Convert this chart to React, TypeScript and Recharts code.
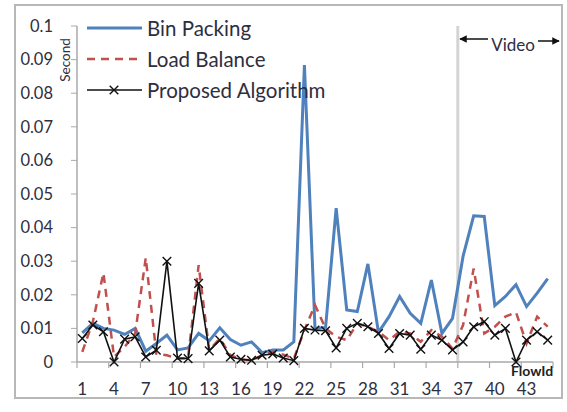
import React from 'react';
import { LineChart, Line, XAxis, YAxis, ReferenceLine } from 'recharts';

const flowIds = [
  1, 2, 3, 4, 5, 6, 7, 8, 9, 10, 11, 12, 13, 14, 15, 16, 17, 18, 19, 20, 21, 22, 23,
  24, 25, 26, 27, 28, 29, 30, 31, 32, 33, 34, 35, 36, 37, 38, 39, 40, 41, 42, 43, 44, 45,
];

const binPacking = [
  0.0087, 0.0115, 0.01, 0.0095, 0.0082, 0.01, 0.0032, 0.0055, 0.008, 0.0036, 0.0042, 0.0085,
  0.0063, 0.0102, 0.0067, 0.005, 0.006, 0.0028, 0.0036, 0.0036, 0.006, 0.0884, 0.01, 0.0103,
  0.0458, 0.0155, 0.015, 0.0292, 0.0088, 0.0135, 0.0195, 0.0145, 0.0115, 0.0244, 0.0085, 0.013,
  0.0315, 0.0435, 0.0433, 0.0168, 0.0195, 0.023, 0.0165, 0.0205, 0.0248,
];

const loadBalance = [
  0.003, 0.012, 0.0265, 0.0015, 0.0045, 0.0085, 0.031, 0.0025, 0.002, 0.001, 0.0012, 0.0288,
  0.0035, 0.007, 0.002, 0.0008, 0.0005, 0.002, 0.003, 0.0022, 0.001, 0.0095, 0.017, 0.01,
  0.0075, 0.0065, 0.0115, 0.0105, 0.009, 0.0065, 0.009, 0.0085, 0.006, 0.0095, 0.0075, 0.004,
  0.011, 0.0278, 0.0085, 0.0105, 0.0135, 0.0148, 0.0055, 0.0135, 0.0105,
];

const proposed = [
  0.007, 0.011, 0.009, 0.0, 0.0068, 0.0075, 0.0015, 0.0035, 0.03, 0.0012, 0.001, 0.0234,
  0.0033, 0.0065, 0.0015, 0.0008, 0.0005, 0.002, 0.0024, 0.0012, 0.0004, 0.01, 0.0095, 0.0093,
  0.0042, 0.01, 0.0115, 0.0105, 0.0085, 0.004, 0.0085, 0.008, 0.0038, 0.008, 0.0065, 0.0036,
  0.006, 0.0105, 0.012, 0.008, 0.01, 0.0, 0.0065, 0.009, 0.0065,
];

const xTicks = [1, 4, 7, 10, 13, 16, 19, 22, 25, 28, 31, 34, 37, 40, 43];
const yTicks = [0, 0.01, 0.02, 0.03, 0.04, 0.05, 0.06, 0.07, 0.08, 0.09, 0.1];

const seriesNames = ['Bin Packing', 'Load Balance', 'Proposed Algorithm'];

const FONT = "Lato, 'Open Sans', sans-serif";
const TEXT = '#2e2e3e';
const AXIS = '#a9a9a9';
const W = 567;
const H = 412;
const PLOT_W = 476;
const UNIT = PLOT_W / 45;

const data = flowIds.map((id, i) => ({
  flow: id,
  bin: binPacking[i],
  load: loadBalance[i],
  prop: proposed[i],
}));

const Cross = ({ cx, cy }: any) => {
  if (cx == null || cy == null) return null;
  const s = 4.3;
  return (
    <path
      d={`M${cx - s},${cy - s}L${cx + s},${cy + s}M${cx - s},${cy + s}L${cx + s},${cy - s}`}
      stroke="#111"
      strokeWidth={1.4}
      fill="none"
    />
  );
};

const XTick = ({ x, y, payload }: any) => {
  const mark = (px: number) => (
    <line x1={px} x2={px} y1={y} y2={y + 6} stroke={AXIS} strokeWidth={1.2} />
  );
  return (
    <g>
      {mark(x - UNIT / 2)}
      {payload.value === 43 && mark(x + UNIT * 2.5)}
      <text x={x} y={y + 33} textAnchor="middle" fontSize={17} fill={TEXT} fontFamily={FONT}>
        {payload.value}
      </text>
    </g>
  );
};

const LegendBox = () => (
  <div
    style={{
      position: 'absolute',
      left: 86,
      top: 12,
      fontFamily: FONT,
      fontSize: 20.5,
      color: TEXT,
      pointerEvents: 'none',
    }}
  >
    {seriesNames.map((name, i) => (
      <div key={name} style={{ display: 'flex', alignItems: 'center', height: 31 }}>
        <svg width={57} height={14} style={{ marginRight: 4 }}>
          {i === 0 && <line x1={1} x2={56} y1={7} y2={7} stroke="#4f81bd" strokeWidth={3} />}
          {i === 1 && (
            <line x1={1} x2={56} y1={7} y2={7} stroke="#c0504d" strokeWidth={2.5} strokeDasharray="8 6" />
          )}
          {i === 2 && (
            <g>
              <line x1={1} x2={56} y1={7} y2={7} stroke="#111" strokeWidth={1.6} />
              <Cross cx={28} cy={7} />
            </g>
          )}
        </svg>
        <span style={{ lineHeight: '20px' }}>{name}</span>
      </div>
    ))}
  </div>
);

export default function App() {
  return (
    <div style={{ position: 'absolute', left: 0, top: 0, width: W, height: H, background: '#fff' }}>
      <div
        style={{
          position: 'absolute',
          left: 14,
          top: 4,
          width: 545,
          height: 391,
          border: '2px solid #b8b8b8',
        }}
      />
      <LineChart
        width={W}
        height={H}
        data={data}
        margin={{ top: 26, right: 14, left: 0, bottom: 0 }}
        style={{ position: 'absolute', left: 0, top: 0 }}
      >
        <XAxis
          dataKey="flow"
          type="number"
          domain={[0.5, 45.5]}
          ticks={xTicks}
          interval={0}
          height={50}
          tickLine={false}
          tickSize={0}
          tickMargin={0}
          axisLine={{ stroke: AXIS, strokeWidth: 1.5 }}
          tick={<XTick />}
        />
        <YAxis
          domain={[0, 0.1]}
          ticks={yTicks}
          interval={0}
          width={77}
          tickSize={6}
          tickMargin={18}
          tickLine={{ stroke: AXIS }}
          axisLine={{ stroke: AXIS, strokeWidth: 1.5 }}
          tick={{ fontSize: 16.5, fill: TEXT, fontFamily: FONT }}
          tickFormatter={(v: number) => String(Number(v.toFixed(2)))}
        />
        <ReferenceLine x={36.5} stroke="#d4d4d4" strokeWidth={3} />
        <Line dataKey="bin" stroke="#4f81bd" strokeWidth={3} dot={false} isAnimationActive={false} />
        <Line
          dataKey="load"
          stroke="#c0504d"
          strokeWidth={2.5}
          strokeDasharray="8 6"
          dot={false}
          isAnimationActive={false}
        />
        <Line
          dataKey="prop"
          stroke="#111"
          strokeWidth={1.6}
          dot={(p: any) => <Cross key={p.index} {...p} />}
          isAnimationActive={false}
        />
      </LineChart>
      <LegendBox />
      <svg
        width={W}
        height={H}
        style={{ position: 'absolute', left: 0, top: 0, pointerEvents: 'none' }}
        fontFamily={FONT}
      >
        <defs>
          <marker id="ah" viewBox="0 0 10 10" refX="9" refY="5" markerWidth="5" markerHeight="5" orient="auto-start-reverse">
            <path d="M0,0L10,5L0,10z" fill="#111" />
          </marker>
        </defs>
        <line x1={488} y1={39} x2={460} y2={39} stroke="#111" strokeWidth={1.5} markerEnd="url(#ah)" />
        <line x1={538} y1={41} x2={559} y2={41} stroke="#111" strokeWidth={1.5} markerEnd="url(#ah)" />
        <text x={513} y={51} textAnchor="middle" fontSize={17} fill={TEXT}>
          Video
        </text>
        <text
          x={65}
          y={60}
          transform="rotate(-90 65 60)"
          textAnchor="middle"
          dominantBaseline="central"
          fontSize={13.5}
          fill={TEXT}
        >
          Second
        </text>
        <text x={511} y={376} fontSize={14} fontWeight="bold" fill="#222">
          FlowId
        </text>
      </svg>
    </div>
  );
}
